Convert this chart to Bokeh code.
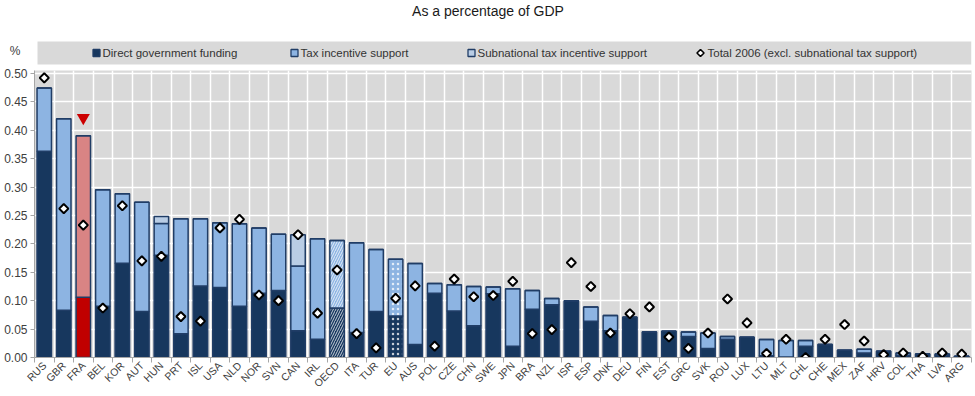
import math
from bokeh.plotting import figure
from bokeh.layouts import column
from bokeh.models import ColumnDataSource, Range1d, FixedTicker, NumeralTickFormatter
from bokeh.core.properties import value
from bokeh.embed import file_html
from bokeh.resources import INLINE

# ---------------- data ----------------
countries = ["RUS", "GBR", "FRA", "BEL", "KOR", "AUT", "HUN", "PRT", "ISL", "USA",
             "NLD", "NOR", "SVN", "CAN", "IRL", "OECD", "ITA", "TUR", "EU", "AUS",
             "POL", "CZE", "CHN", "SWE", "JPN", "BRA", "NZL", "ISR", "ESP", "DNK",
             "DEU", "FIN", "EST", "GRC", "SVK", "ROU", "LUX", "LTU", "MLT", "CHL",
             "CHE", "MEX", "ZAF", "HRV", "COL", "THA", "LVA", "ARG"]
direct = [0.363, 0.083, 0.106, 0.090, 0.166, 0.081, 0.180, 0.042, 0.126, 0.123,
          0.090, 0.113, 0.118, 0.047, 0.032, 0.087, 0.044, 0.081, 0.073, 0.023,
          0.113, 0.082, 0.056, 0.112, 0.020, 0.085, 0.093, 0.100, 0.064, 0.047,
          0.071, 0.045, 0.046, 0.037, 0.016, 0.032, 0.0355, 0.003, 0.001, 0.020,
          0.023, 0.0128, 0.008, 0.011, 0.004, 0.006, 0.004, 0.002]
tax_incentive = [0.111, 0.337, 0.284, 0.205, 0.122, 0.192, 0.056, 0.202, 0.118, 0.114,
                 0.1455, 0.115, 0.099, 0.114, 0.177, 0.119, 0.158, 0.109, 0.100, 0.1425,
                 0.017, 0.046, 0.069, 0.012, 0.101, 0.033, 0.011, 0.0, 0.025, 0.027,
                 0.0, 0.0, 0.0, 0.008, 0.027, 0.005, 0.0, 0.0285, 0.029, 0.0097,
                 0.0, 0.0, 0.0065, 0.0, 0.004, 0.0, 0.002, 0.0]
subnational = [0.0, 0.0, 0.0, 0.0, 0.0, 0.0, 0.012, 0.0, 0.0, 0.0,
               0.0, 0.0, 0.0, 0.055, 0.0, 0.0, 0.0, 0.0, 0.0, 0.0,
               0.0, 0.0, 0.0, 0.0, 0.0, 0.0, 0.0, 0.0, 0.0, 0.0,
               0.0, 0.0, 0.0, 0.0, 0.0, 0.0, 0.0, 0.0, 0.0, 0.0,
               0.0, 0.0, 0.0, 0.0, 0.0, 0.0, 0.0, 0.0]
total_2006 = [0.492, 0.262, 0.233, 0.087, 0.267, 0.170, 0.178, 0.072, 0.064, 0.228,
              0.243, 0.110, 0.100, 0.216, 0.078, 0.154, 0.042, 0.017, 0.104, 0.126,
              0.020, 0.138, 0.107, 0.109, 0.134, 0.042, 0.049, 0.167, 0.125, 0.043,
              0.077, 0.089, 0.036, 0.016, 0.043, 0.103, 0.061, 0.007, 0.032, 0.000,
              0.032, 0.058, 0.029, 0.005, 0.008, 0.002, 0.008, 0.006]
y_ticks = [0.00, 0.05, 0.10, 0.15, 0.20, 0.25, 0.30, 0.35, 0.40, 0.45, 0.50]
highlight = "FRA"
title_text = "As a percentage of GDP"
unit_text = "%"
legend_labels = ["Direct government funding", "Tax incentive support",
                 "Subnational tax incentive support",
                 "Total 2006 (excl. subnational tax support)"]

# ---------------- styles ----------------
FONT = "Liberation Sans"
NAVY = "#17375E"
OUTLINE = "#203D66"
LIGHT = "#8DB4E2"
SUB = "#B9CDE5"
RED = "#C00000"
PINK = "#D98484"
BG = "#D9D9D9"
AXIS = "#A6A6A6"
TXT = "#404040"
W = 975
LEFT, RIGHT = 34, 4          # frame borders shared by both panels

# ---------------- header (title + legend band) ----------------
HH = 66
top = figure(width=W, height=HH, output_backend="svg", toolbar_location=None,
             x_range=Range1d(LEFT, W - RIGHT), y_range=Range1d(HH, 0),
             x_axis_location=None,
             min_border_left=LEFT, min_border_right=RIGHT, min_border_top=0,
             min_border_bottom=0)
top.xgrid.visible = False
top.ygrid.visible = False
top.outline_line_color = None
top.background_fill_color = "white"
top.border_fill_color = "white"
# unit label "%" shown as the only tick label of the header's left axis
ta = top.yaxis[0]
ta.ticker = FixedTicker(ticks=[50])
ta.major_label_overrides = {50: unit_text}
ta.axis_line_color = None
ta.major_tick_line_color = None
ta.major_tick_out = 0
ta.major_tick_in = 0
ta.minor_tick_line_color = None
ta.major_label_standoff = 14
ta.major_label_text_font = FONT
ta.major_label_text_font_size = "12px"
ta.major_label_text_color = TXT

top.text(x=[487.5], y=[10.5], text=[title_text], text_font=value(FONT),
         text_font_size="14px", text_color="#1A1A1A", text_align="center",
         text_baseline="middle")
top.quad(left=[37], right=[W - RIGHT], top=[41], bottom=[64], fill_color=BG,
         line_color=None)

cy = 52.5
glyph_x = [96, 294, 471, 700]
text_x = [102, 300, 477, 707]
top.rect(x=glyph_x[:3], y=[cy] * 3, width=7, height=7,
         fill_color=[NAVY, LIGHT, SUB], line_color=OUTLINE, line_width=1.3)
top.scatter(x=[glyph_x[3]], y=[cy], marker="square", angle=math.pi / 4, size=5,
            fill_color="white", line_color="black", line_width=1.6)
top.text(x=text_x, y=[cy] * 4, text=legend_labels, text_font=value(FONT),
         text_font_size="11.5px", text_color="#333333", text_align="left",
         text_baseline="middle")

# ---------------- main chart ----------------
n = len(countries)
x = list(range(n))
top_d = direct
top_t = [d + t for d, t in zip(direct, tax_incentive)]
top_s = [a + s for a, s in zip(top_t, subnational)]
hatch = ["/" if c == "OECD" else ("." if c == "EU" else " ") for c in countries]

src = ColumnDataSource(dict(
    x=x, zero=[0.0] * n, top_d=top_d, top_t=top_t, top_s=top_s, t2006=total_2006,
    cd=[RED if c == highlight else NAVY for c in countries],
    ct=[PINK if c == highlight else LIGHT for c in countries],
    hatch=hatch,
))

MH = 330
p = figure(width=W, height=MH, output_backend="svg", toolbar_location=None,
           x_range=Range1d(-0.5, n - 0.5), y_range=Range1d(0, 0.505),
           min_border_left=LEFT, min_border_right=RIGHT, min_border_top=4,
           min_border_bottom=37)
p.background_fill_color = BG
p.border_fill_color = "white"
p.outline_line_color = None

bw = 0.74
p.vbar(x="x", bottom="zero", top="top_d", width=bw, source=src, fill_color="cd",
       line_color=OUTLINE, line_width=1.5, hatch_pattern="hatch", hatch_color="white",
       hatch_alpha=0.75, hatch_scale=5, hatch_weight=1)
p.vbar(x="x", bottom="top_d", top="top_t", width=bw, source=src, fill_color="ct",
       line_color=OUTLINE, line_width=1.5, hatch_pattern="hatch", hatch_color="white",
       hatch_alpha=0.75, hatch_scale=5, hatch_weight=1)
p.vbar(x="x", bottom="top_t", top="top_s", width=bw, source=src, fill_color=SUB,
       line_color=OUTLINE, line_width=1.5)
p.scatter(x="x", y="t2006", source=src, marker="square", angle=math.pi / 4, size=6.5,
          fill_color="white", line_color="black", line_width=2)

hi = countries.index(highlight)
p.scatter(x=[hi], y=[top_s[hi] + 0.032], marker="inverted_triangle", size=13,
          fill_color="#CC0000", line_color=None)

xa = p.xaxis[0]
xa.ticker = FixedTicker(ticks=x, minor_ticks=[i - 0.5 for i in range(n + 1)])
xa.major_label_overrides = {i: c for i, c in enumerate(countries)}
xa.major_label_orientation = math.pi / 4
xa.major_tick_line_color = None
xa.major_tick_out = 0
xa.major_tick_in = 0
xa.minor_tick_in = 0
xa.minor_tick_out = 5
xa.minor_tick_line_color = AXIS
xa.axis_line_color = AXIS
xa.major_label_standoff = 1
xa.major_label_text_font = FONT
xa.major_label_text_font_size = "10.5px"
xa.major_label_text_color = TXT

ya = p.yaxis[0]
ya.ticker = FixedTicker(ticks=y_ticks)
ya.formatter = NumeralTickFormatter(format="0.00")
ya.major_tick_in = 0
ya.major_tick_out = 4
ya.minor_tick_line_color = None
ya.axis_line_color = AXIS
ya.major_tick_line_color = AXIS
ya.major_label_standoff = 3
ya.major_label_text_font = FONT
ya.major_label_text_font_size = "12px"
ya.major_label_text_color = TXT

p.xgrid.ticker = FixedTicker(ticks=[i - 0.5 for i in range(n + 1)])
p.xgrid.grid_line_color = "white"
p.xgrid.grid_line_width = 1.5
p.ygrid.grid_line_color = "white"
p.ygrid.grid_line_width = 1.5

layout = column(top, p, spacing=0)
open("out.html", "w").write(file_html(layout, INLINE))
